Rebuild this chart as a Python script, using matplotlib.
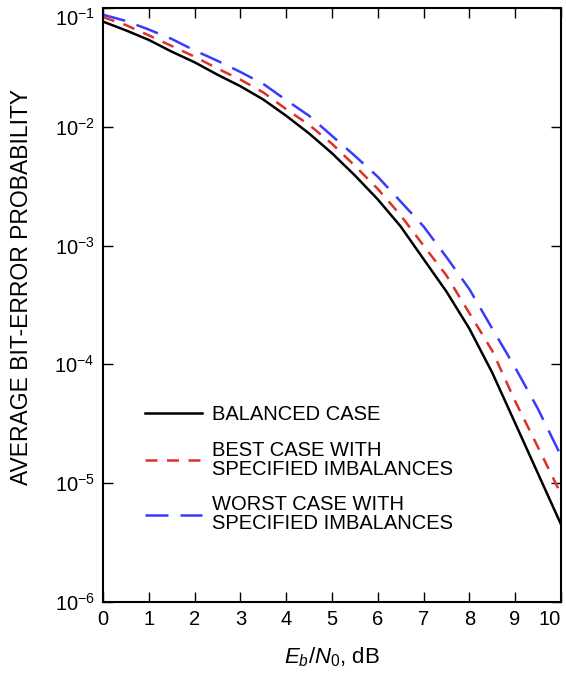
import numpy as np
import matplotlib
matplotlib.use('Agg')
import matplotlib.pyplot as plt

plt.rcParams['font.family'] = ['Liberation Sans', 'DejaVu Sans']
plt.rcParams['mathtext.fontset'] = 'custom'
plt.rcParams['mathtext.rm'] = 'Liberation Sans'
plt.rcParams['mathtext.it'] = 'Liberation Sans:italic'

# Eb/N0 in dB, every half dB
ebno = [0, 0.5, 1, 1.5, 2, 2.5, 3, 3.5, 4, 4.5, 5,
        5.5, 6, 6.5, 7, 7.5, 8, 8.5, 9, 9.5, 10]

balanced = [7.7e-2, 6.5e-2, 5.4e-2, 4.3e-2, 3.5e-2, 2.75e-2, 2.2e-2, 1.7e-2, 1.24e-2, 8.8e-3, 6.0e-3,
            3.9e-3, 2.45e-3, 1.45e-3, 7.7e-4, 4.1e-4, 2.0e-4, 8.5e-5, 3.2e-5, 1.2e-5, 4.5e-6]
best = [8.4e-2, 7.2e-2, 5.9e-2, 4.8e-2, 3.9e-2, 3.1e-2, 2.5e-2, 1.95e-2, 1.41e-2, 1.04e-2, 7.2e-3,
        4.7e-3, 3.0e-3, 1.8e-3, 1.0e-3, 5.6e-4, 2.7e-4, 1.3e-4, 4.9e-5, 2.0e-5, 8.1e-6]
worst = [8.8e-2, 7.8e-2, 6.6e-2, 5.5e-2, 4.4e-2, 3.6e-2, 2.9e-2, 2.3e-2, 1.68e-2, 1.24e-2, 8.4e-3,
         5.7e-3, 3.8e-3, 2.35e-3, 1.45e-3, 8.0e-4, 4.3e-4, 2.0e-4, 9.4e-5, 4.2e-5, 1.7e-5]

labels = ['BALANCED CASE',
          'BEST CASE WITH\nSPECIFIED IMBALANCES',
          'WORST CASE WITH\nSPECIFIED IMBALANCES']

fig = plt.figure(figsize=(5.66, 6.78), dpi=100)
ax = fig.add_axes([0.182, 0.1125, 0.809, 0.8755])

ax.semilogy(ebno, balanced, color='black', lw=1.8, label=labels[0])
ax.semilogy(ebno, best, color='#e0302a', lw=1.8, dashes=(4.8, 3.8), label=labels[1])
ax.semilogy(ebno, worst, color='#3a3aff', lw=1.8, dashes=(9.2, 4.8), label=labels[2])

ax.set_xlim(0, 10)
ax.set_ylim(1e-6, 1e-1)
ax.set_xticks(range(11))
ax.set_yticks([1e-6, 1e-5, 1e-4, 1e-3, 1e-2, 1e-1])
ax.minorticks_off()
ax.tick_params(direction='in', length=7, width=1, top=True, right=True,
               labelsize=14.5, pad=6)
for s in ax.spines.values():
    s.set_linewidth(1.5)

# keep the end labels inside the figure like the original
fig.canvas.draw()
ax.get_xticklabels()[-1].set_ha('right')
ax.get_yticklabels()[-1].set_va('top')

ax.set_ylabel('AVERAGE BIT-ERROR PROBABILITY', fontsize=16.5, labelpad=4)
ax.yaxis.set_label_coords(-0.152, 0.53)
ax.set_xlabel('$E_b/N_0$, dB', fontsize=16, labelpad=12)

leg = ax.legend(loc='upper left', bbox_to_anchor=(0.0917, 0.331), frameon=False,
                fontsize=14.5, handlelength=2.85, handletextpad=0.5, labelspacing=0.82,
                borderpad=0, borderaxespad=0)
for t in leg.get_texts():
    t.set_linespacing(1.0)

fig.savefig('out.png', dpi=100)
